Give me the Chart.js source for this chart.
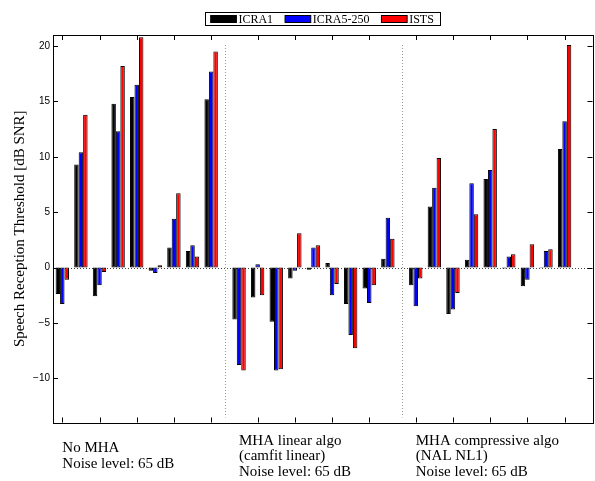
<!DOCTYPE html>
<html>
<head>
<meta charset="utf-8">
<script src="https://cdn.jsdelivr.net/npm/chart.js@4.4.0/dist/chart.umd.min.js"></script>
<style>
    html, body { margin: 0; padding: 0; background: #fff; }
    canvas { display: block; }
</style>
</head>
<body>
<canvas id="srtChart" width="595" height="481"></canvas>
<script>
const seriesNames = ['ICRA1', 'ICRA5-250', 'ISTS'];
const seriesColors = ['#000000', '#0000ff', '#ff0000'];
const sectionLabels = [
    ['No MHA', 'Noise level: 65 dB'],
    ['MHA linear algo', '(camfit linear)', 'Noise level: 65 dB'],
    ['MHA compressive algo', '(NAL NL1)', 'Noise level: 65 dB']
];
const groupsPerSection = 9;

// 9 groups per section, 3 sections
const icra1 = [-2.4, 9.3, -2.6, 14.8, 15.4, -0.3, 1.8, 1.5, 15.2,
               -4.7, -2.7, -4.9, -1.0, -0.2, 0.4, -3.3, -1.9, 0.8,
               -1.6, 5.5, -4.2, 0.7, 8.0, -0.1, -1.7, 0.05, 10.7];
const icra5 = [-3.3, 10.4, -1.6, 12.3, 16.5, -0.5, 4.4, 2.0, 17.7,
               -8.8, 0.3, -9.3, -0.3, 1.8, -2.5, -6.1, -3.2, 4.5,
               -3.5, 7.2, -3.8, 7.6, 8.8, 1.0, -1.1, 1.5, 13.2];
const ists = [-1.1, 13.8, -0.4, 18.2, 20.8, 0.2, 6.7, 1.0, 19.5,
              -9.3, -2.5, -9.2, 3.1, 2.0, -1.5, -7.3, -1.6, 2.6,
              -1.0, 9.9, -2.3, 4.8, 12.5, 1.2, 2.1, 1.65, 20.1];
const seriesValues = [icra1, icra5, ists];

const yTicks = [20, 15, 10, 5, 0, -5, -10];
const yMin = -14;
const yMax = 21;

// sections are separated by an extra half group
function xOf(section, group) {
    return 1 + section * (groupsPerSection + 0.5) + group;
}
const groupX = icra1.map((v, i) => xOf(Math.floor(i / groupsPerSection), i % groupsPerSection));

const framePlugin = {
    id: 'frame',
    beforeDatasetsDraw(chart) {
        const { ctx, chartArea: a, scales: { x, y } } = chart;
        ctx.save();
        ctx.lineWidth = 1;
        ctx.setLineDash([1, 2]);
        ctx.strokeStyle = '#444';
        const y0 = Math.round(y.getPixelForValue(0)) + 0.5;
        ctx.beginPath();
        ctx.moveTo(a.left, y0);
        ctx.lineTo(a.right, y0);
        ctx.stroke();

        ctx.strokeStyle = '#999';
        for (let s = 1; s < sectionLabels.length; s++) {
            const mid = (xOf(s - 1, groupsPerSection - 1) + xOf(s, 0)) / 2;
            const px = Math.round(x.getPixelForValue(mid)) + 0.5;
            ctx.beginPath();
            ctx.moveTo(px, a.top + 10);
            ctx.lineTo(px, a.bottom - 5);
            ctx.stroke();
        }
        ctx.restore();
    },
    afterDraw(chart) {
        const { ctx, chartArea: a, scales: { x, y } } = chart;
        ctx.save();
        ctx.strokeStyle = '#000';
        ctx.lineWidth = 1;
        ctx.strokeRect(Math.round(a.left) + 0.5, Math.round(a.top) + 0.5,
            Math.round(a.right - a.left), Math.round(a.bottom - a.top));

        ctx.beginPath();
        x.ticks.forEach(t => {
            const px = Math.round(x.getPixelForValue(t.value)) + 0.5;
            ctx.moveTo(px, a.bottom);
            ctx.lineTo(px, a.bottom - 5);
            ctx.moveTo(px, a.top);
            ctx.lineTo(px, a.top + 5);
        });
        yTicks.forEach(v => {
            const py = Math.round(y.getPixelForValue(v)) + 0.5;
            ctx.moveTo(a.left, py);
            ctx.lineTo(a.left + 5, py);
            ctx.moveTo(a.right, py);
            ctx.lineTo(a.right - 5, py);
        });
        ctx.stroke();

        // section captions under the axes
        ctx.fillStyle = '#000';
        ctx.font = '15px "Liberation Serif"';
        ctx.textAlign = 'left';
        ctx.textBaseline = 'alphabetic';
        const lineGap = 15.7;
        sectionLabels.forEach((lines, s) => {
            const px = x.getPixelForValue(xOf(s, 0));
            const first = a.bottom + 37.7 - (lines.length - 1) * lineGap / 2;
            lines.forEach((txt, k) => ctx.fillText(txt, px, first + k * lineGap));
        });

        // boxed legend
        ctx.font = '12px "Liberation Serif"';
        ctx.textBaseline = 'middle';
        const sw = 25.7, sh = 7, gap = 2, itemGap = 12, padL = 5.5, padR = 6.5;
        const widths = seriesNames.map(n => ctx.measureText(n).width);
        const total = padL + padR + widths.reduce((s, w) => s + sw + gap + w, 0) + itemGap * (seriesNames.length - 1);
        const cy = 19;
        let lx = (a.left + a.right) / 2 - total / 2;
        ctx.strokeRect(Math.round(lx) + 0.5, 12.5, Math.round(total), 13);
        lx += padL;
        seriesNames.forEach((n, i) => {
            ctx.fillStyle = seriesColors[i];
            ctx.fillRect(lx, cy - sh / 2, sw, sh);
            ctx.strokeRect(lx, cy - sh / 2, sw, sh);
            ctx.fillStyle = '#000';
            ctx.fillText(n, lx + sw + gap, cy + 0.5);
            lx += sw + gap + widths[i] + itemGap;
        });
        ctx.restore();
    }
};

const ctx = document.getElementById('srtChart').getContext('2d');
new Chart(ctx, {
    type: 'bar',
    data: {
        datasets: seriesNames.map((name, i) => ({
            label: name,
            data: seriesValues[i].map((v, j) => ({ x: groupX[j], y: v })),
            backgroundColor: seriesColors[i],
            borderColor: '#000',
            borderWidth: 1,
            borderSkipped: false,
            categoryPercentage: 0.72,
            barPercentage: 1
        }))
    },
    options: {
        responsive: false,
        animation: false,
        layout: { padding: { top: 35, right: 2.5, bottom: 58.5, left: 0 } },
        plugins: {
            legend: { display: false },
            tooltip: { enabled: false }
        },
        scales: {
            x: {
                type: 'linear',
                min: 0.5,
                max: 29.5,
                offset: false,
                display: false,
                afterBuildTicks: axis => { axis.ticks = groupX.map(v => ({ value: v })); }
            },
            y: {
                min: yMin,
                max: yMax,
                afterBuildTicks: axis => { axis.ticks = yTicks.map(v => ({ value: v })); },
                afterFit: scale => { scale.width = 53; },
                grid: { display: false, drawTicks: false },
                border: { display: false },
                ticks: {
                    padding: 3,
                    color: '#000',
                    font: { family: 'Liberation Sans', size: 10 },
                    callback: v => v < 0 ? '\u2212' + (-v) : String(v)
                },
                title: {
                    display: true,
                    text: 'Speech Reception Threshold [dB SNR]',
                    color: '#000',
                    font: { family: 'Liberation Serif', size: 15 },
                    padding: { top: 11, bottom: 0 }
                }
            }
        }
    },
    plugins: [framePlugin]
});
</script>
</body>
</html>
